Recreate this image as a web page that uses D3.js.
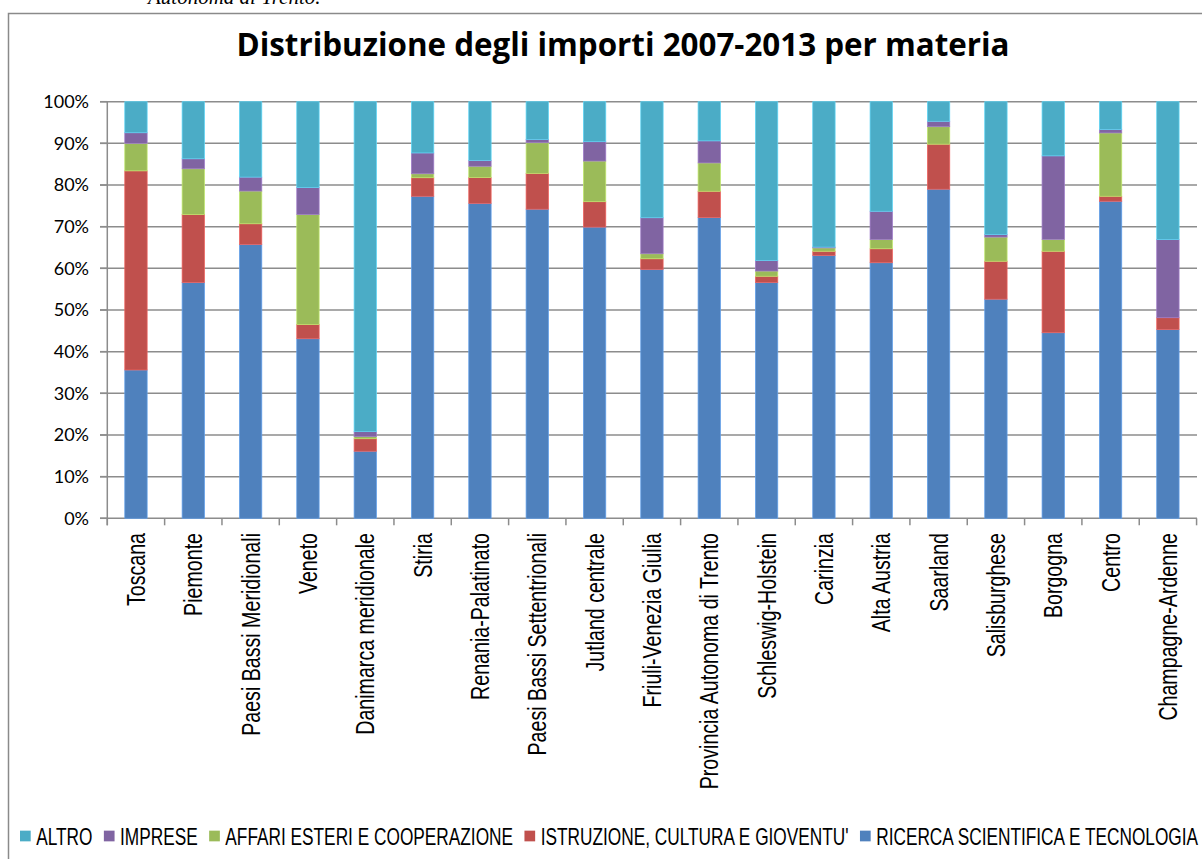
<!DOCTYPE html>
<head>
  <meta charset="utf-8">
  <script src="https://d3js.org/d3.v7.min.js"></script>
  <style>
    body { margin:0; background:#fff; overflow:hidden; }
  </style>
</head>
<body>
<script>

/* Data */
/* ==== */

var regions = ['Toscana', 'Piemonte', 'Paesi Bassi Meridionali', 'Veneto', 'Danimarca meridionale',
  'Stiria', 'Renania-Palatinato', 'Paesi Bassi Settentrionali', 'Jutland centrale', 'Friuli-Venezia Giulia',
  'Provincia Autonoma di Trento', 'Schleswig-Holstein', 'Carinzia', 'Alta Austria', 'Saarland',
  'Salisburghese', 'Borgogna', 'Centro', 'Champagne-Ardenne'];

// shares in %, bottom to top
var ricerca    = [35.6, 56.6, 65.75, 43.1, 16.1, 77.3, 75.6, 74.2, 69.9, 59.75, 72.2, 56.6, 63.1, 61.35, 79.0, 52.6, 44.55, 76.1, 45.3];
var istruzione = [47.8, 16.3, 4.95, 3.4, 3.0, 4.45, 6.2, 8.6, 6.1, 2.55, 6.3, 1.5, 1.0, 3.35, 10.8, 9.1, 19.55, 1.2, 2.85];
var affari     = [6.6, 11.0, 7.85, 26.4, 0.5, 0.95, 2.7, 7.35, 9.75, 1.2, 6.8, 1.25, 0.8, 2.2, 4.2, 5.8, 2.85, 15.2, 0];
var imprese    = [2.55, 2.4, 3.35, 6.5, 1.2, 5.0, 1.4, 0.8, 4.65, 8.65, 5.3, 2.55, 0.2, 6.8, 1.3, 0.6, 20.05, 0.85, 18.75];
var altro      = [7.45, 13.7, 18.1, 20.6, 79.2, 12.3, 14.1, 9.05, 9.6, 27.85, 9.4, 38.1, 34.9, 26.3, 4.7, 31.9, 13.0, 6.65, 33.1];

var seriesNames = ['RICERCA SCIENTIFICA E TECNOLOGIA', "ISTRUZIONE, CULTURA E GIOVENTU'",
  'AFFARI ESTERI E COOPERAZIONE', 'IMPRESE', 'ALTRO'];
var seriesValues = [ricerca, istruzione, affari, imprese, altro];
var colors = ['#4f81bd', '#c0504d', '#9bbb59', '#8064a2', '#4bacc6'];

var yTicks = [0, 10, 20, 30, 40, 50, 60, 70, 80, 90, 100];

var title = 'Distribuzione degli importi 2007-2013 per materia';


/* Set up */
/* ====== */

var width = 1202, height = 859;
// narrow look: Liberation Sans squeezed horizontally
var narrowFont = '"Liberation Sans", Arial, sans-serif';
var labelSquash = 0.785;

var svg = d3.select('body').append('svg')
    .attr('width', width)
    .attr('height', height);

// caption cut off above the chart
svg.append('text')
    .attr('x', 148).attr('y', 4)
    .attr('font-family', '"Liberation Serif", serif')
    .attr('font-style', 'italic')
    .attr('font-size', 21)
    .attr('fill', '#000')
    .text('Autonoma di Trento.');

// chart frame (runs off the right and bottom edges)
svg.append('rect')
    .attr('x', 8.5).attr('y', 13.5)
    .attr('width', 1260).attr('height', 900)
    .attr('fill', '#fff')
    .attr('stroke', '#8a8a8a')
    .attr('stroke-width', 1.5);

svg.append('text')
    .attr('x', 623).attr('y', 56)
    .attr('text-anchor', 'middle')
    .attr('font-family', '"Open Sans", sans-serif')
    .attr('font-weight', 'bold')
    .attr('font-size', 33)
    .attr('textLength', 773)
    .attr('lengthAdjust', 'spacingAndGlyphs')
    .text(title);

var x = d3.scaleBand()
    .domain(regions)
    .range([107.3, 107.3 + 57.33 * regions.length])
    .paddingInner(0.61)
    .paddingOuter(0.305);

var y = d3.scaleLinear()
    .domain([0, 100])
    .range([518.3, 101.7]);

// gridlines
svg.append('g')
  .selectAll('line')
  .data(yTicks)
  .enter().append('line')
    .attr('x1', 100).attr('x2', 1197)
    .attr('y1', function(d) { return y(d); })
    .attr('y2', function(d) { return y(d); })
    .attr('stroke', '#8c8c8c')
    .attr('stroke-width', 1.5);

// y labels
svg.append('g')
  .selectAll('text')
  .data(yTicks)
  .enter().append('text')
    .attr('x', 89)
    .attr('y', function(d) { return y(d) + 6.3; })
    .attr('text-anchor', 'end')
    .attr('font-family', 'Lato, "Open Sans", sans-serif')
    .attr('font-size', 18)
    .attr('fill', '#000')
    .text(function(d) { return d + '%'; });

// stacked bars
var stacked = regions.map(function(r, i) {
  var base = 0;
  return seriesValues.map(function(vals, s) {
    var seg = { region: r, s: s, y0: base, y1: base + vals[i] };
    base += vals[i];
    return seg;
  });
});

svg.append('g')
  .selectAll('g')
  .data(stacked)
  .enter().append('g')
  .selectAll('rect')
  .data(function(d) { return d.filter(function(e) { return e.y1 > e.y0; }); })
  .enter().append('rect')
    .attr('x', function(d) { return x(d.region); })
    .attr('width', x.bandwidth())
    .attr('y', function(d) { return y(Math.min(d.y1, 100)); })
    .attr('height', function(d) { return y(d.y0) - y(Math.min(d.y1, 100)); })
    .attr('fill', function(d) { return colors[d.s]; })
    .attr('stroke', function(d) { return d3.color(colors[d.s]).brighter(0.6); })
    .attr('stroke-width', 0.75);

// y axis line + ticks
svg.append('line')
    .attr('x1', 107.3).attr('x2', 107.3)
    .attr('y1', y(100)).attr('y2', y(0) + 7)
    .attr('stroke', '#8c8c8c').attr('stroke-width', 1.5);

svg.append('g')
  .selectAll('line')
  .data(yTicks)
  .enter().append('line')
    .attr('x1', 100).attr('x2', 107.3)
    .attr('y1', function(d) { return y(d); })
    .attr('y2', function(d) { return y(d); })
    .attr('stroke', '#8c8c8c').attr('stroke-width', 1.5);

// x ticks at category boundaries
svg.append('g')
  .selectAll('line')
  .data(d3.range(regions.length + 1))
  .enter().append('line')
    .attr('x1', function(i) { return 107.3 + i * x.step(); })
    .attr('x2', function(i) { return 107.3 + i * x.step(); })
    .attr('y1', y(0)).attr('y2', y(0) + 7)
    .attr('stroke', '#8c8c8c').attr('stroke-width', 1.5);

// category labels
svg.append('g')
  .selectAll('text')
  .data(regions)
  .enter().append('text')
    .attr('transform', function(d) {
      return 'translate(' + (x(d) + x.bandwidth() / 2 + 9) + ',' + 533 + ') rotate(-90) scale(' + labelSquash + ',1)';
    })
    .attr('text-anchor', 'end')
    .attr('font-family', narrowFont)
    .attr('font-size', 25)
    .attr('fill', '#000')
    .text(function(d) { return d; });

// legend: squeeze texts so the row spans the same width as the original
var legendOrder = [4, 3, 2, 1, 0];
var sq = 10.7, sqGap = 5.5, itemGap = 11.4, legendLeft = 20, legendRight = 1199;
var legend = svg.append('g').attr('transform', 'translate(' + legendLeft + ',836)');
var texts = legendOrder.map(function(s) {
  return legend.append('text')
      .attr('y', 9)
      .attr('font-family', narrowFont)
      .attr('font-size', 24)
      .attr('fill', '#000')
      .text(seriesNames[s]);
});
var rawTotal = d3.sum(texts, function(t) { return t.node().getComputedTextLength(); });
var fixed = legendOrder.length * (sq + sqGap) + (legendOrder.length - 1) * itemGap;
var squash = (legendRight - legendLeft - fixed) / rawTotal;
var lx = 0;
legendOrder.forEach(function(s, i) {
  legend.append('rect')
      .attr('x', lx).attr('y', -sq / 2)
      .attr('width', sq).attr('height', sq)
      .attr('fill', colors[s]);
  var tx = lx + sq + sqGap;
  texts[i].attr('transform', 'translate(' + tx + ',0) scale(' + squash + ',1)');
  lx = tx + texts[i].node().getComputedTextLength() * squash + itemGap;
});

</script>
</body>
